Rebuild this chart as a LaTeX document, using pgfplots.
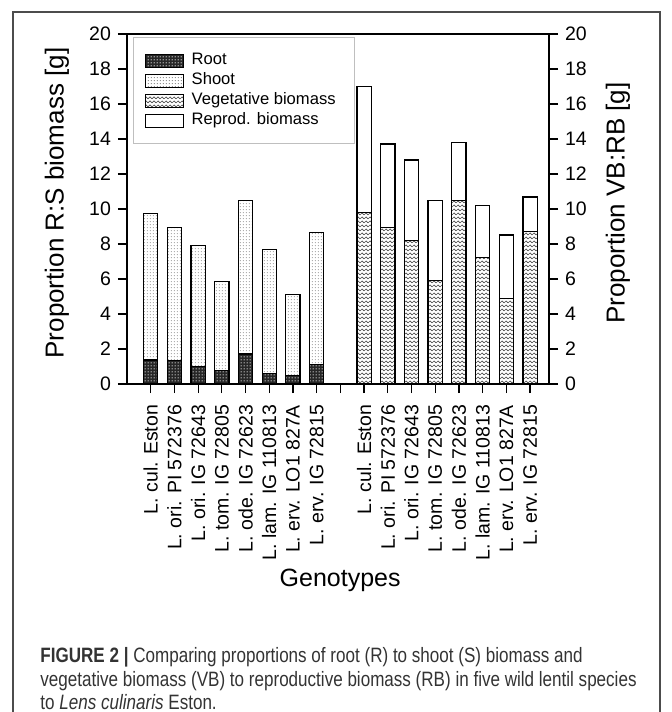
\documentclass[border=0pt]{standalone}
\usepackage{fontspec}
\setmainfont{Liberation Sans}
\newfontfamily\capfont[FakeStretch=0.82]{Liberation Sans}
\usepackage{pgfplots}
\pgfplotsset{compat=1.18}
\usetikzlibrary{patterns}

\pgfdeclarepatternformonly{rootdots}{\pgfqpoint{0pt}{0pt}}{\pgfqpoint{1.5pt}{1.5pt}}{\pgfqpoint{1.5pt}{1.5pt}}{%
  \pgfpathcircle{\pgfqpoint{0.75pt}{0.75pt}}{0.4pt}\pgfusepath{fill}}
\pgfdeclarepatternformonly{shootpat}{\pgfqpoint{0pt}{0pt}}{\pgfqpoint{1.6pt}{1.6pt}}{\pgfqpoint{1.6pt}{1.6pt}}{%
  \pgfpathcircle{\pgfqpoint{0.8pt}{0.8pt}}{0.28pt}\pgfusepath{fill}}
\pgfdeclarepatternformonly{vegpat}{\pgfqpoint{-0.1pt}{-0.1pt}}{\pgfqpoint{2.1pt}{2.1pt}}{\pgfqpoint{2pt}{2pt}}{%
  \pgfsetlinewidth{0.35pt}%
  \pgfpathmoveto{\pgfqpoint{0pt}{0.5pt}}\pgfpathlineto{\pgfqpoint{1pt}{1.5pt}}\pgfpathlineto{\pgfqpoint{2pt}{0.5pt}}%
  \pgfusepath{stroke}}

\tikzset{
  rootstyle/.style={draw=black, line width=0.6pt, fill=black!85, postaction={pattern=rootdots, pattern color=white}},
  shootstyle/.style={draw=black, line width=0.6pt, fill=white, postaction={pattern=shootpat, pattern color=black!75}},
  vegstyle/.style={draw=black, line width=0.6pt, fill=white, postaction={pattern=vegpat, pattern color=black!70}},
  repstyle/.style={draw=black, line width=0.6pt, fill=white},
}

\pgfplotstableread{
x root shoot
0 1.37 8.37
1 1.33 7.62
2 0.99 6.91
3 0.76 5.11
4 1.71 8.77
5 0.61 7.06
6 0.47 4.66
7 1.12 7.54
}\rstable
\pgfplotstableread{
x veg rep
9  9.80 7.20
10 8.93 4.78
11 8.20 4.60
12 5.91 4.57
13 10.50 3.29
14 7.22 2.98
15 4.90 3.61
16 8.72 1.97
}\vbtable

\pgfplotsset{
  common/.style={
    at={(63.5pt,-192pt)}, anchor=south west,
    scale only axis, width=211pt, height=175pt,
    xmin=-1, xmax=16.8, ymin=0, ymax=20,
    ytick={0,2,...,20},
    tick align=outside, major tick length=4.5pt,
    every tick/.style={black, line width=0.6pt},
    axis line style={line width=0.7pt},
    /pgf/number format/assume math mode=true,
    y tick label style={font=\fontsize{9.75}{11}\selectfont},
    ybar stacked, bar width=0.6,
  }
}

\begin{document}
\begin{tikzpicture}
\useasboundingbox (0,0) rectangle (336pt,-356pt);
\draw[black!70, line width=0.6pt] (6.5pt,-400pt) -- (6.5pt,-6pt) -- (330pt,-6pt) -- (330pt,-400pt);

\begin{axis}[common,
  ytick pos=left, xtick pos=bottom,
  xtick={0,...,16},
  xticklabels={L. cul. Eston, L. ori. PI 572376, L. ori. IG 72643, L. tom. IG 72805, L. ode. IG 72623, L. lam. IG 110813, L. erv. LO1 827A, L. erv. IG 72815, {}, L. cul. Eston, L. ori. PI 572376, L. ori. IG 72643, L. tom. IG 72805, L. ode. IG 72623, L. lam. IG 110813, L. erv. LO1 827A, L. erv. IG 72815},
  xticklabel shift=2.5pt,
  x tick label style={rotate=90, anchor=east, font=\fontsize{9.75}{11}\selectfont},
  ylabel={Proportion R:S biomass [g]},
  ylabel style={at={(axis description cs:-0.166,0.517)}, anchor=center, rotate=0, font=\fontsize{13}{15}\selectfont},
  xlabel={Genotypes},
  xlabel style={at={(axis description cs:0.505,-0.56)}, anchor=center, font=\fontsize{12.5}{15}\selectfont},
  legend image code/.code={\draw[#1] (0pt,-3.25pt) rectangle (19pt,3.25pt);},
  legend style={at={(0.014,0.991)}, anchor=north west, draw=black!25, line width=0.6pt,
    fill=white, font=\fontsize{8.3}{9.8}\selectfont, inner xsep=5.5pt, inner ysep=6.5pt,
    row sep=0pt, nodes={inner xsep=4pt, inner ysep=1.1pt, text height=6pt, text depth=1.8pt}},
  legend cell align=left,
]
\addplot[rootstyle] table[x=x, y=root] {\rstable};
\addplot[shootstyle] table[x=x, y=shoot] {\rstable};
\addlegendimage{vegstyle}
\addlegendimage{repstyle}
\legend{Root, Shoot, Vegetative biomass, Reprod. biomass}
\end{axis}

\begin{axis}[common,
  axis x line=none, axis y line*=right,
  ylabel={Proportion VB:RB [g]},
  ylabel style={at={(axis description cs:1.163,0.517)}, anchor=center, rotate=0, font=\fontsize{13}{15}\selectfont},
]
\addplot[vegstyle] table[x=x, y=veg] {\vbtable};
\addplot[repstyle] table[x=x, y=rep] {\vbtable};
\end{axis}

\begin{scope}[text=black!80]
\node[anchor=base west, inner sep=0pt, font=\capfont\fontsize{10.4}{12}\selectfont] at (20pt,-331pt) {\textbf{FIGURE 2 |} Comparing proportions of root (R) to shoot (S) biomass and};
\node[anchor=base west, inner sep=0pt, font=\capfont\fontsize{10.4}{12}\selectfont] at (20pt,-343pt) {vegetative biomass (VB) to reproductive biomass (RB) in five wild lentil species};
\node[anchor=base west, inner sep=0pt, font=\capfont\fontsize{10.4}{12}\selectfont] at (20pt,-354.5pt) {to \textit{Lens culinaris} Eston.};
\end{scope}
\end{tikzpicture}
\end{document}
